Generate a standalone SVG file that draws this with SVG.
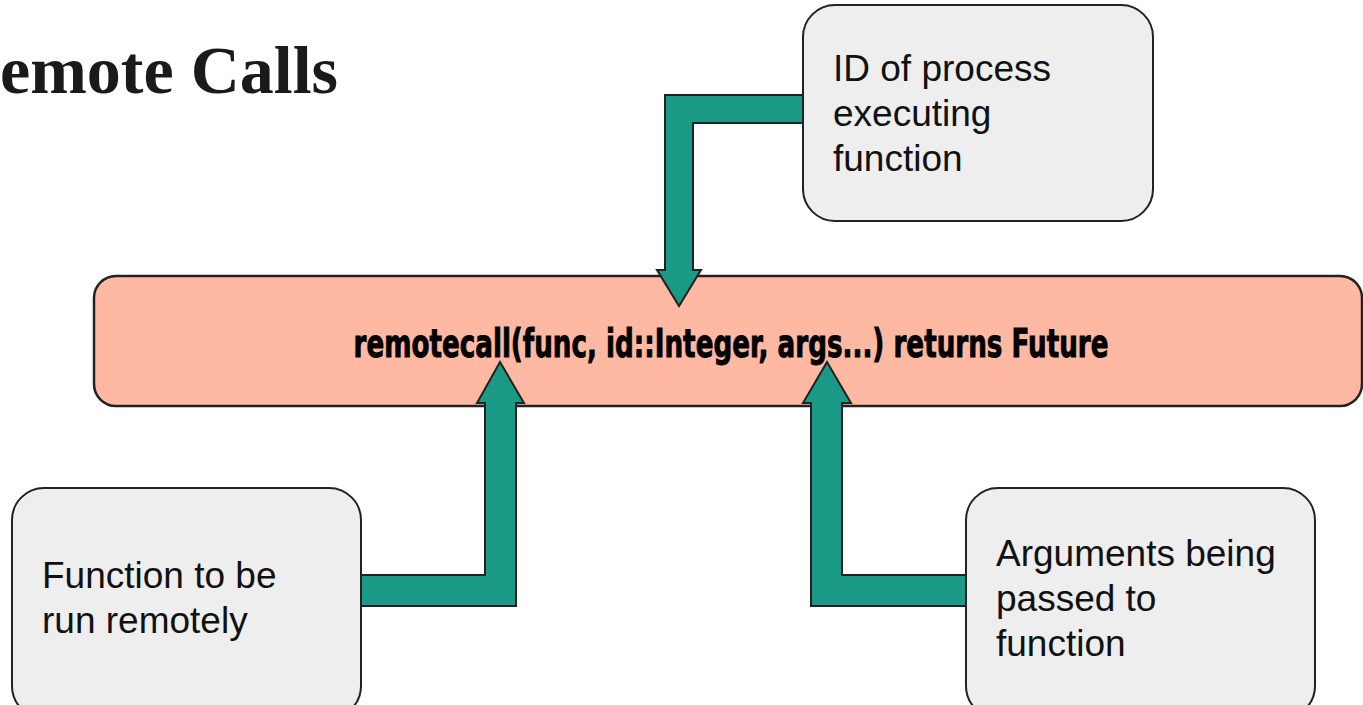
<svg xmlns="http://www.w3.org/2000/svg" width="1363" height="705" viewBox="0 0 1363 705">
  <style>
    .note { fill: #eeeeee; stroke: #222222; stroke-width: 2; }
    .call { fill: #ffb8a2; stroke: #222222; stroke-width: 2.5; }
    .arrow { fill: #1b9987; stroke: #222222; stroke-width: 2; stroke-linejoin: miter; }
    .label { font-family: "Liberation Sans", Arial, sans-serif; font-size: 37px; fill: #111111; }
    .sig { font-family: "DejaVu Sans Condensed", "DejaVu Sans", sans-serif; font-stretch: condensed; font-weight: bold; font-size: 39px; fill: #000000; stroke: #000000; stroke-width: 0.9; }
    .title { font-family: "Liberation Serif", "Times New Roman", serif; font-weight: bold; font-size: 68px; fill: #1a1a1a; }
  </style>

  <rect width="1363" height="705" fill="#ffffff"/>

  <text class="title" x="0" y="93">emote Calls</text>

  <g id="call">
    <rect class="call" x="94" y="276" width="1268" height="130" rx="22"/>
    <text class="sig" x="731" y="357" text-anchor="middle" textLength="755" lengthAdjust="spacingAndGlyphs">remotecall(func, id::Integer, args...) returns Future</text>
  </g>

  <g id="connectors">
    <!-- process id into the call -->
    <path class="arrow" d="M803 95 L665 95 L665 270 L657 270 L679 306 L701 270 L693 270 L693 123 L803 123 Z"/>
    <!-- function into the call -->
    <path class="arrow" d="M361 575 L485 575 L485 403 L477 403 L500 362 L524 403 L516 403 L516 606 L361 606 Z"/>
    <!-- arguments into the call -->
    <path class="arrow" d="M966 575 L842 575 L842 403 L851 403 L827 362 L803 403 L811 403 L811 606 L966 606 Z"/>
  </g>

  <g id="process-id">
    <rect class="note" x="803" y="5" width="350" height="216" rx="32"/>
    <text class="label" x="833" y="81">ID of process</text>
    <text class="label" x="833" y="126">executing</text>
    <text class="label" x="833" y="171">function</text>
  </g>

  <g id="function">
    <rect class="note" x="12" y="488" width="349" height="230" rx="32"/>
    <text class="label" x="42" y="588">Function to be</text>
    <text class="label" x="42" y="633">run remotely</text>
  </g>

  <g id="arguments">
    <rect class="note" x="966" y="488" width="349" height="230" rx="32"/>
    <text class="label" x="996" y="566">Arguments being</text>
    <text class="label" x="996" y="611">passed to</text>
    <text class="label" x="996" y="656">function</text>
  </g>
</svg>
